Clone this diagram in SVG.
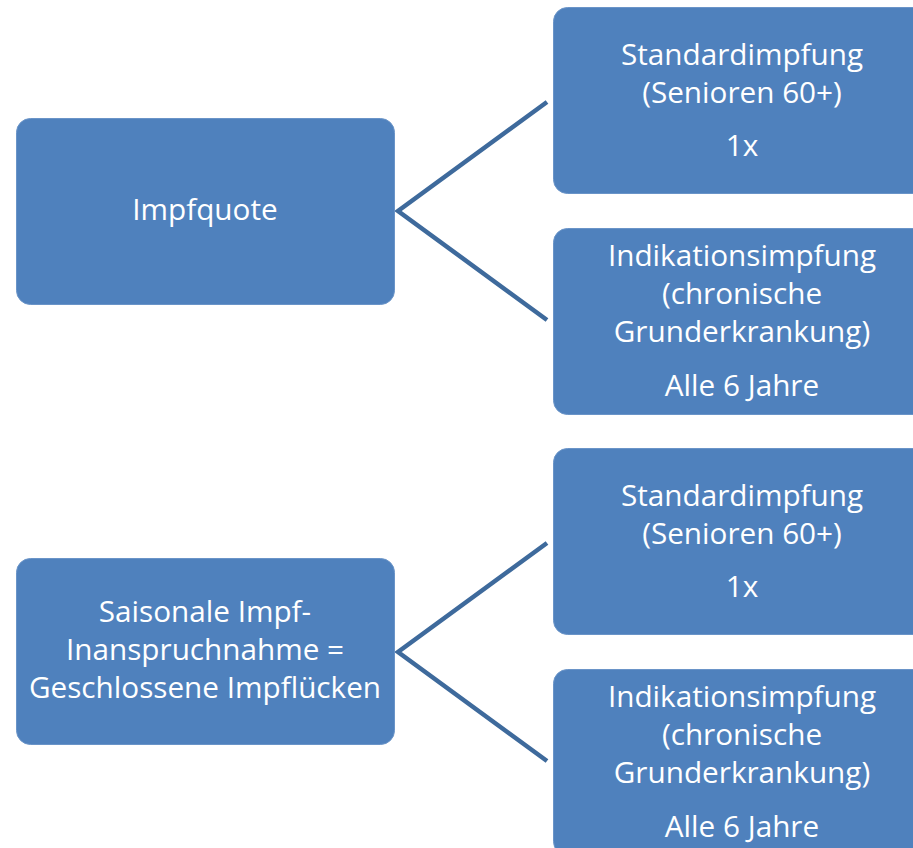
<svg xmlns="http://www.w3.org/2000/svg" width="913" height="848" viewBox="0 0 913 848">
<style>
.box{fill:#4f81bd;stroke:#6a94c8;stroke-width:1}
.t{font-family:"Open Sans","Noto Sans",sans-serif;font-size:29.7px;fill:#ffffff;text-anchor:middle}
.c{fill:none;stroke:#3e6a9c;stroke-width:4.5;stroke-linejoin:miter}
</style>
<rect width="913" height="848" fill="#ffffff"/>
<g id="connectors">
<polyline class="c" points="547,102 398,211 547,320"/>
<polyline class="c" points="547,543 398,652 547,761"/>
</g>
<g id="impfquote">
<rect class="box" x="16.5" y="118.5" width="378" height="186" rx="14"/>
<text class="t" x="205" y="220">Impfquote</text>
</g>
<g id="standard1">
<rect class="box" x="553.5" y="7.5" width="378" height="186" rx="14"/>
<text class="t" x="742" y="65">Standardimpfung</text>
<text class="t" x="742" y="103">(Senioren 60+)</text>
<text class="t" x="742" y="156">1x</text>
</g>
<g id="indikation1">
<rect class="box" x="553.5" y="228.5" width="378" height="186" rx="14"/>
<text class="t" x="742" y="266">Indikationsimpfung</text>
<text class="t" x="742" y="304">(chronische</text>
<text class="t" x="742" y="342">Grunderkrankung)</text>
<text class="t" x="742" y="396">Alle 6 Jahre</text>
</g>
<g id="saisonal">
<rect class="box" x="16.5" y="558.5" width="378" height="186" rx="14"/>
<text class="t" x="205" y="622">Saisonale Impf-</text>
<text class="t" x="205" y="660">Inanspruchnahme =</text>
<text class="t" x="205" y="698">Geschlossene Impflücken</text>
</g>
<g id="standard2">
<rect class="box" x="553.5" y="448.5" width="378" height="186" rx="14"/>
<text class="t" x="742" y="506">Standardimpfung</text>
<text class="t" x="742" y="544">(Senioren 60+)</text>
<text class="t" x="742" y="597">1x</text>
</g>
<g id="indikation2">
<rect class="box" x="553.5" y="669.5" width="378" height="186" rx="14"/>
<text class="t" x="742" y="707">Indikationsimpfung</text>
<text class="t" x="742" y="745">(chronische</text>
<text class="t" x="742" y="783">Grunderkrankung)</text>
<text class="t" x="742" y="837">Alle 6 Jahre</text>
</g>
</svg>
